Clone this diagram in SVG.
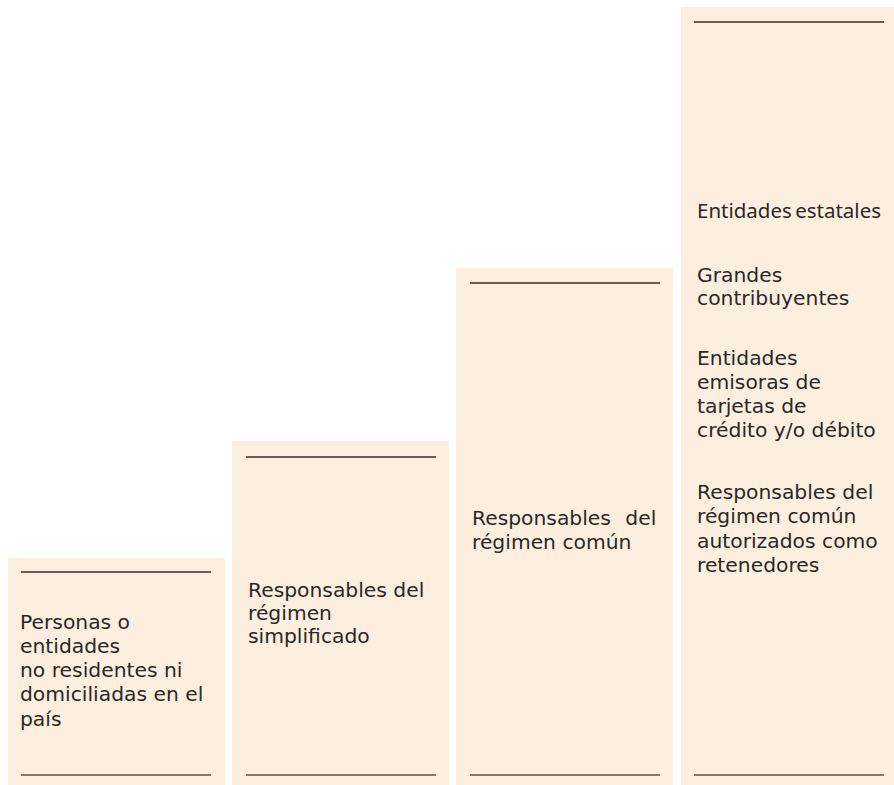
<svg xmlns="http://www.w3.org/2000/svg" width="894" height="785" viewBox="0 0 894 785">
<style>
.box{fill:#fdefe0}
.tl{stroke:#35302c;stroke-width:1.4}
.bl{stroke:#857b72;stroke-width:2.2}
.t{font-family:"DejaVu Sans","Verdana",sans-serif;font-size:20.3px;fill:#2a2826}
.c{font-family:"Noto Sans","Open Sans",sans-serif;font-size:20.5px;fill:#2a2826;word-spacing:-2px}
</style>
<rect width="894" height="785" fill="#ffffff"/>
<g id="col1">
<rect class="box" x="8" y="558" width="217" height="227"/>
<line class="tl" x1="21" y1="572" x2="211" y2="572"/>
<line class="bl" x1="21" y1="775" x2="211" y2="775"/>
<text class="t" x="20" y="629">Personas o</text>
<text class="t" x="20" y="653">entidades</text>
<text class="t" x="20" y="677">no residentes ni</text>
<text class="t" x="20" y="701">domiciliadas en el</text>
<text class="t" x="20" y="726">país</text>
</g>
<g id="col2">
<rect class="box" x="232" y="441" width="217" height="344"/>
<line class="tl" x1="246" y1="457" x2="436" y2="457"/>
<line class="bl" x1="246" y1="775" x2="436" y2="775"/>
<text class="t" x="248" y="597">Responsables del</text>
<text class="t" x="248" y="620">régimen</text>
<text class="t" x="248" y="643">simplificado</text>
</g>
<g id="col3">
<rect class="box" x="456" y="268" width="217" height="517"/>
<line class="tl" x1="470" y1="283" x2="660" y2="283"/>
<line class="bl" x1="470" y1="775" x2="660" y2="775"/>
<text class="t" x="472" y="525" word-spacing="8">Responsables del</text>
<text class="t" x="472" y="549">régimen común</text>
</g>
<g id="col4">
<rect class="box" x="681" y="7" width="217" height="778"/>
<line class="tl" x1="694" y1="22" x2="884" y2="22"/>
<line class="bl" x1="694" y1="775" x2="884" y2="775"/>
<text class="c" x="697" y="218">Entidades estatales</text>
<text class="t" x="697" y="282">Grandes</text>
<text class="t" x="697" y="305">contribuyentes</text>
<text class="t" x="697" y="365">Entidades</text>
<text class="t" x="697" y="389">emisoras de</text>
<text class="t" x="697" y="413">tarjetas de</text>
<text class="t" x="697" y="437">crédito y/o débito</text>
<text class="t" x="697" y="499">Responsables del</text>
<text class="t" x="697" y="523">régimen común</text>
<text class="t" x="697" y="548">autorizados como</text>
<text class="t" x="697" y="572">retenedores</text>
</g>
<g id="connectors"></g>
</svg>
